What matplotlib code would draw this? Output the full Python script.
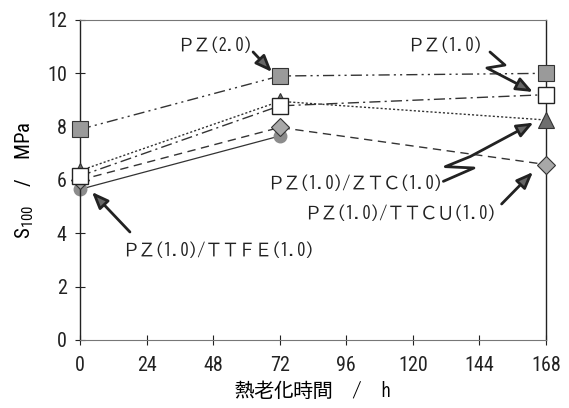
import matplotlib
matplotlib.use('Agg')
import matplotlib.pyplot as plt
from matplotlib.patches import FancyArrowPatch
from matplotlib.path import Path

num_font = ['Roboto Condensed', 'Liberation Sans', 'DejaVu Sans']
jp_font = ['BIZ UDGothic', 'Noto Sans CJK JP', 'DejaVu Sans']
plt.rcParams['font.family'] = num_font
plt.rcParams['mathtext.fontset'] = 'custom'
plt.rcParams['mathtext.rm'] = 'Roboto Condensed'

# heat-ageing time (h) and S100 (MPa)
hours = [0, 72, 168]
pz20 = [7.9, 9.9, 10.0]
pz10 = [6.15, 8.78, 9.2]
pz10_ztc = [6.35, 8.95, 8.25]
pz10_ttcu = [6.0, 7.97, 6.58]
hours_ttfe = [0, 72]
pz10_ttfe = [5.65, 7.65]

xticks = [0, 24, 48, 72, 96, 120, 144, 168]
yticks = [0, 2, 4, 6, 8, 10, 12]

fig = plt.figure(figsize=(5.69, 4.08), dpi=100)
ax = fig.add_axes([0.1406, 0.1667, 0.819, 0.7843])

ax.plot(hours_ttfe, pz10_ttfe, '-', color='#333333', lw=0.9, clip_on=False,
        marker='o', ms=9, mfc='#8c8c8c', mec='#8c8c8c', zorder=2)
ax.plot(hours, pz10_ttcu, color='#333333', lw=1.0, ls=(0, (6, 4)), clip_on=False,
        marker='D', ms=9, mfc='#a8a8a8', mec='#333333', mew=0.8, zorder=3)
ax.plot(hours, pz10_ztc, color='#333333', lw=1.0, ls=(0, (1.5, 1.5)), clip_on=False,
        marker='^', ms=12, mfc='#6e6e6e', mec='#333333', mew=0.8, zorder=4)
ax.plot(hours, pz10, color='#333333', lw=1.0, ls=(0, (8, 3, 1.5, 3)), clip_on=False,
        marker='s', ms=11, mfc='white', mec='#222222', mew=1.0, zorder=5)
ax.plot(hours, pz20, color='#333333', lw=1.0, ls=(0, (8, 3, 1.5, 3, 1.5, 3)), clip_on=False,
        marker='s', ms=11, mfc='#9a9a9a', mec='#333333', mew=0.8, zorder=6)

ax.set_xlim(0, 168)
ax.set_ylim(0, 12)
ax.set_xticks(xticks)
ax.set_yticks(yticks)
ax.tick_params(direction='inout', length=7, width=0.8, labelsize=14.5, colors='#222222')
ax.tick_params(axis='x', pad=8)
ax.tick_params(axis='y', pad=6)
for side in ['left', 'right']:
    ax.spines[side].set_color('#222222')
    ax.spines[side].set_linewidth(1.0)
for side in ['top', 'bottom']:
    ax.spines[side].set_color('#777777')
    ax.spines[side].set_linewidth(0.8)

ax.set_xlabel('熱老化時間　/　h', fontsize=14, family=jp_font, labelpad=4)
ax.set_ylabel(r'$\mathrm{S_{100}}$    /    MPa', fontsize=15, labelpad=8)

lab_kw = dict(fontsize=12, family=jp_font, ha='center', va='center', color='#222222')
ax.text(48.7, 11.06, 'ＰＺ(2.0)', **lab_kw)
ax.text(131.6, 11.06, 'ＰＺ(1.0)', **lab_kw)
ax.text(99.1, 5.89, 'ＰＺ(1.0)/ＺＴＣ(1.0)', **lab_kw)
ax.text(115.4, 4.76, 'ＰＺ(1.0)/ＴＴＣＵ(1.0)', **lab_kw)
ax.text(49.8, 3.37, 'ＰＺ(1.0)/ＴＴＦＥ(1.0)', **lab_kw)

arrow_kw = dict(arrowstyle='-|>,head_length=10,head_width=4', lw=2.0,
                color='#222222', mutation_scale=1, zorder=7,
                shrinkA=0, shrinkB=0)


def arrow(pts):
    codes = [Path.MOVETO] + [Path.LINETO] * (len(pts) - 1)
    p = FancyArrowPatch(path=Path(pts, codes), **arrow_kw)
    p.set_facecolor('#666666')
    p.set_clip_on(False)
    ax.add_patch(p)


# straight arrows
arrow([(62.4, 10.8), (69.2, 10.05)])
arrow([(152.0, 5.1), (163.3, 6.3)])
arrow([(18.0, 4.05), (4.3, 5.55)])
# zigzag arrows
arrow([(147.8, 10.8), (153.2, 10.31), (146.7, 10.2), (163.3, 9.3)])
arrow([(131.0, 5.95), (142.0, 6.45), (131.7, 6.5), (140.7, 6.88), (163.5, 8.15)])

fig.savefig('out.png', dpi=100)
